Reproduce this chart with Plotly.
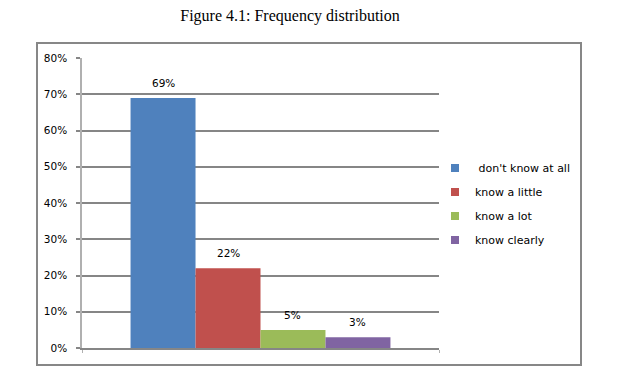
import plotly.graph_objects as go

categories = ["Frequency"]
series_names = ["\u00a0don't know at all", "know a little", "know a lot", "know clearly"]
series_values = [0.69, 0.22, 0.05, 0.03]
series_colors = ["#4F81BD", "#C0504D", "#9BBB59", "#8064A2"]
y_tick_vals = [0, 0.1, 0.2, 0.3, 0.4, 0.5, 0.6, 0.7, 0.8]
y_tick_text = ["0%", "10%", "20%", "30%", "40%", "50%", "60%", "70%", "80%"]

# page body has an 8px margin; lay the figure out relative to that origin
OFF = 8
W, H = 622 - OFF, 368 - OFF
L, T = 82 - OFF, 58 - OFF
R = 622 - 439
B = H - (348 - OFF)
BARGAP = 0.272
pw = W - L - R
ph = H - T - B

fig = go.Figure()
n = len(series_names)
for i, (name, val, col) in enumerate(zip(series_names, series_values, series_colors)):
    fig.add_trace(go.Bar(x=categories, y=[val], name=name, marker=dict(color=col, line=dict(width=0)),
                         showlegend=False, hoverinfo="skip"))
for i, (name, col) in enumerate(zip(series_names, series_colors)):
    fig.add_trace(go.Scatter(x=[None], y=[None], mode="markers", name=name, legendgroup=f"g{i}",
                             marker=dict(symbol="square", size=8, color=col), showlegend=True))

# data labels
grp = 1 - BARGAP
bw = grp / n
for i, val in enumerate(series_values):
    cx = -grp / 2 + (i + 0.5) * bw
    fig.add_annotation(x=cx, y=val, xref="x", yref="y", text=f"{round(val*100)}%", showarrow=False,
                       yanchor="bottom", yshift=7, font=dict(family="DejaVu Sans", size=10.5, color="#000"))

# window px -> paper coords
def px_to_paper_x(px):
    return (px - OFF - L) / pw
def px_to_paper_y(py):
    return (H - B - (py - OFF)) / ph

fig.add_shape(type="rect", xref="paper", yref="paper",
              x0=px_to_paper_x(37), x1=px_to_paper_x(581),
              y0=px_to_paper_y(365), y1=px_to_paper_y(43),
              line=dict(color="#878787", width=2), layer="below")

fig.update_layout(
    width=W, height=H,
    margin=dict(l=L, r=R, t=T, b=B),
    paper_bgcolor="white", plot_bgcolor="white",
    barmode="group", bargap=BARGAP, bargroupgap=0,
    title=dict(text="Figure 4.1: Frequency distribution", x=(290 - OFF) / W, xanchor="center",
               y=1 - (15 - OFF) / H, yanchor="middle", yref="container",
               font=dict(family="Liberation Serif", size=16, color="#000")),
    legend=dict(x=px_to_paper_x(435), xanchor="left", y=px_to_paper_y(204), yanchor="middle",
                font=dict(family="DejaVu Sans", size=11, color="#000"),
                tracegroupgap=5, bgcolor="rgba(0,0,0,0)", borderwidth=0),
    font=dict(family="DejaVu Sans", size=10, color="#000"),
    showlegend=True,
)
fig.update_yaxes(range=[0, 0.8], tickvals=y_tick_vals, ticktext=y_tick_text,
                 showgrid=True, gridcolor="#868686", gridwidth=2,
                 ticks="outside", ticklen=4, tickwidth=2, tickcolor="#868686",
                 ticklabelstandoff=7,
                 showline=True, linecolor="#B0B0B0", linewidth=1.5,
                 zeroline=False, fixedrange=True,
                 tickfont=dict(family="DejaVu Sans", size=10.5, color="#000"))
fig.update_xaxes(showticklabels=False, showline=True, linecolor="#868686", linewidth=2,
                 ticks="outside", tickson="boundaries", ticklen=3, tickcolor="#B0B0B0", tickwidth=1,
                 showgrid=False, fixedrange=True)

fig.write_html("out.html")
